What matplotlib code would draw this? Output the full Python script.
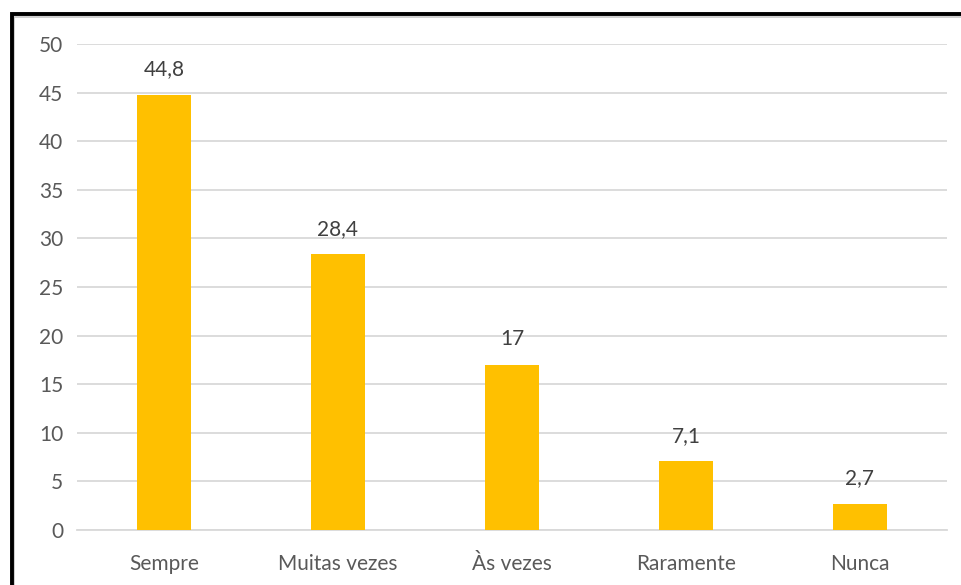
import matplotlib
matplotlib.use("Agg")
import matplotlib.pyplot as plt
from matplotlib.patches import Rectangle

categories = ["Sempre", "Muitas vezes", "Às vezes", "Raramente", "Nunca"]
values = [44.8, 28.4, 17, 7.1, 2.7]
value_labels = ["44,8", "28,4", "17", "7,1", "2,7"]
y_ticks = [0, 5, 10, 15, 20, 25, 30, 35, 40, 45, 50]

W, H = 962, 585
fig = plt.figure(figsize=(W / 100, H / 100), dpi=100)
fig.patch.set_facecolor("white")
plt.rcParams["font.family"] = ["Lato", "DejaVu Sans"]

# frame around the chart, running off the right and bottom edges
fig.add_artist(Rectangle((14.5 / W, -0.1), 2.0, 1 - 16.5 / H + 0.1, transform=fig.transFigure,
                         fill=False, edgecolor="#c8c8c8", lw=1.2, zorder=0))
fig.add_artist(Rectangle((11.5 / W, -0.1), 2.0, 1 - 13.5 / H + 0.1, transform=fig.transFigure,
                         fill=False, edgecolor="black", lw=2.8, zorder=1))

ax = fig.add_axes([77 / W, 1 - 530 / H, (947 - 77) / W, (530 - 44) / H])
x = range(len(categories))
ax.bar(x, values, width=0.31, color="#FFC000", zorder=3)
for xi, v, lab in zip(x, values, value_labels):
    ax.annotate(lab, (xi, v), xytext=(0, 11), textcoords="offset points", ha="center", va="bottom",
                fontsize=15, color="#404040")

ax.set_xlim(-0.5, len(categories) - 0.5)
ax.set_ylim(0, 50)
ax.set_yticks(y_ticks)
ax.set_xticks(list(x))
ax.set_xticklabels(categories)
ax.yaxis.grid(True, color="#d9d9d9", lw=1.3, zorder=0)
ax.set_axisbelow(True)
for s in ["top", "right", "left"]:
    ax.spines[s].set_visible(False)
ax.spines["bottom"].set_color("#d9d9d9")
ax.spines["bottom"].set_linewidth(1.3)
ax.tick_params(axis="both", length=0, labelsize=15, labelcolor="#595959")
ax.tick_params(axis="y", pad=10)
ax.tick_params(axis="x", pad=17)

fig.savefig("out.png", dpi=100)
